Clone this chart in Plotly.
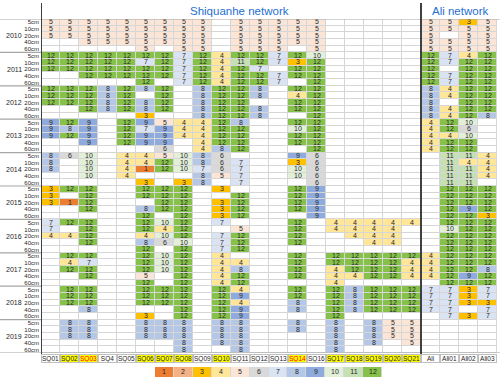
import plotly.graph_objects as go

_ = None

stations = ["SQ01", "SQ02", "SQ03", "SQ4", "SQ05", "SQ06", "SQ07", "SQ08", "SQ09", "SQ10",
            "SQ11", "SQ12", "SQ13", "SQ14", "SQ16", "SQ17", "SQ18", "SQ19", "SQ20", "SQ21",
            "Ali", "Ali01", "Ali02", "Ali03"]
years = [2010, 2011, 2012, 2013, 2014, 2015, 2016, 2017, 2018, 2019]
depths = ["5cm", "10cm", "20cm", "40cm", "60cm"]
highlighted = ["SQ02", "SQ03", "SQ06", "SQ07", "SQ08", "SQ10", "SQ14",
               "SQ17", "SQ18", "SQ19", "SQ20", "SQ21"]
red_labels = ["SQ03", "SQ14"]
legend_values = [1, 2, 3, 4, 5, 6, 7, 8, 9, 10, 11, 12]

# months of valid data per station / depth (rows: 5, 10, 20, 40, 60 cm)
y2010 = [
    [5, 5, 5, 5, 5, 5, 5, 5, 5, _, 5, 5, 5, 5, 5, _, _, _, _, _, 5, 5, 3, 5],
    [5, 5, 5, 5, 5, 5, 5, 5, 5, _, 5, 5, 5, 5, 5, _, _, _, _, _, 5, 5, 5, 5],
    [5, 5, 5, 5, 5, 5, 5, 5, 5, _, 5, 5, 5, 5, 5, _, _, _, _, _, 5, _, 5, 5],
    [_, _, 5, 5, 5, 5, 5, 5, 5, _, 5, 5, 5, 5, 5, _, _, _, _, _, 5, 5, 5, 5],
    [_, _, _, _, _, 5, _, 5, 5, _, 5, 5, 5, _, 5, _, _, _, _, _, 5, 5, 5, 5],
]
y2011 = [
    [12, 12, 12, 12, 12, 12, 12, 7, 12, 4, 12, 12, 7, 12, 10, _, _, _, _, _, 12, 7, 4, 12],
    [12, 12, 12, 12, 12, 7, 12, 7, 12, 4, 11, 12, 7, 3, 12, _, _, _, _, _, 12, 7, 12, 12],
    [12, 12, 12, 12, 12, 12, 12, 7, 12, 4, 12, 7, _, 12, 12, _, _, _, _, _, 12, _, 12, 12],
    [_, _, 12, 12, 12, 12, 12, 7, 12, 4, 12, 12, 7, 12, 12, _, _, _, _, _, 12, 7, 12, 12],
    [_, _, _, _, _, 12, _, 7, 12, 4, 12, 12, 7, _, 12, _, _, _, _, _, 12, 7, 12, 12],
]
y2012 = [
    [12, 12, 12, 8, 12, 8, 12, _, 8, 12, 12, 8, _, 12, 12, _, _, _, _, _, 8, 4, 12, 12],
    [12, 12, 12, 8, 12, _, 12, _, 8, 12, 12, 8, _, 4, 12, _, _, _, _, _, 8, 4, 12, 12],
    [12, 12, 12, 8, 12, 8, 12, _, 8, 12, 12, _, _, 12, 12, _, _, _, _, _, 8, _, 12, 12],
    [_, _, 12, 8, 12, 8, 12, _, 8, 12, 12, 8, _, 12, 12, _, _, _, _, _, 8, 4, 12, 12],
    [_, _, _, _, _, 3, _, _, 8, 12, 12, 8, _, _, 12, _, _, _, _, _, 8, 4, 12, 8],
]
y2013 = [
    [9, 12, 9, _, 12, 9, 5, 4, 4, 12, 8, _, _, 12, 12, _, _, _, _, _, 4, 12, 10, _],
    [9, 8, 9, _, 12, 7, 9, 4, 4, 12, 12, _, _, 10, 12, _, _, _, _, _, 4, 12, 6, _],
    [9, 12, 9, _, 12, 9, 9, 4, 4, 12, 12, _, _, 12, 12, _, _, _, _, _, 4, 4, 10, _],
    [_, _, 9, _, 12, 9, 9, _, 4, 12, 12, _, _, 12, 12, _, _, _, _, _, 4, 12, 12, _],
    [_, _, _, _, _, _, 6, _, 4, 8, 12, _, _, _, 12, _, _, _, _, _, 4, 12, 12, _],
]
y2014 = [
    [8, 6, 10, _, 4, 4, 5, 10, 8, 6, _, _, _, 9, 6, _, _, _, _, _, _, 11, 11, 4],
    [8, _, 10, _, 4, 4, 12, 10, 8, 6, 7, _, _, 3, 6, _, _, _, _, _, _, 11, 4, 4],
    [8, _, 10, _, 4, 1, 12, 10, 7, 6, 7, _, _, 10, 6, _, _, _, _, _, _, 11, 11, 4],
    [_, _, 10, _, 4, _, _, _, 8, 5, 7, _, _, 10, 6, _, _, _, _, _, _, 11, 11, 4],
    [_, _, _, _, _, 3, _, 3, 8, _, 7, _, _, _, 6, _, _, _, _, _, _, 11, 11, _],
]
y2015 = [
    [3, 12, 12, _, _, 12, 12, 12, _, 3, _, _, _, 12, 9, _, _, _, _, _, _, 12, 12, 12],
    [3, _, 12, _, _, 12, 12, 12, _, _, 12, _, _, 12, 9, _, _, _, _, _, _, 12, 12, 12],
    [3, 1, 12, _, _, _, 12, 12, _, 3, 12, _, _, 12, 9, _, _, _, _, _, _, 12, 12, 12],
    [_, _, 12, _, _, 8, 12, 12, _, 3, 12, _, _, 12, 9, _, _, _, _, _, _, 12, 9, 12],
    [_, _, _, _, _, 12, _, 12, _, 3, 12, _, _, _, 9, _, _, _, _, _, _, 12, 12, 3],
]
y2016 = [
    [7, 12, 12, _, _, 12, 10, 12, _, 7, _, _, _, 12, _, 4, 4, 4, 4, 4, _, 12, 12, 12],
    [7, _, 12, _, _, 12, 4, 12, _, _, 5, _, _, 12, _, 4, 4, 4, 4, _, _, 10, 12, 12],
    [4, 4, 12, _, _, 4, 10, 12, _, 7, 12, _, _, 12, _, _, 4, 4, 4, _, _, 12, 12, 12],
    [_, _, 12, _, _, 8, 6, 10, _, 7, 12, _, _, 12, _, _, _, 4, 4, _, _, 12, 12, 12],
    [_, _, _, _, _, 12, _, 12, _, 7, 12, _, _, _, _, _, _, _, _, _, _, 12, 12, 12],
]
y2017 = [
    [_, 12, 12, _, _, 12, 10, 12, _, 4, _, _, _, 12, _, 12, 12, 12, 12, 12, 4, 12, 12, 12],
    [_, 4, 7, _, _, 12, 10, 12, _, 4, 4, _, _, 12, _, 12, 12, 12, 12, 4, 4, 12, 12, 12],
    [_, 12, 12, _, _, 12, 10, 12, _, 4, 8, _, _, 12, _, 4, 12, 12, 12, 4, 4, 12, 12, 8],
    [_, _, 12, _, _, 5, _, 12, _, 4, 12, _, _, 12, _, 4, 4, 12, 12, 4, 4, 12, 9, 12],
    [_, _, _, _, _, 12, _, 12, _, 4, 12, _, _, _, _, 4, _, _, _, _, _, 12, 12, 12],
]
y2018 = [
    [_, 12, 12, _, _, 12, 12, 12, _, 12, 4, _, _, 12, _, 12, 8, 12, 12, 12, 7, 7, 3, 7],
    [_, 12, 12, _, _, 12, 12, 12, _, 12, 9, _, _, 12, _, 12, 8, 12, 12, 12, 7, 7, 3, 7],
    [_, 12, 12, _, _, 12, 12, 12, _, 12, 4, _, _, 8, _, 12, 8, 12, 12, 12, 7, 7, 3, 3],
    [_, _, 8, _, _, _, _, 12, _, 12, 9, _, _, 8, _, 12, 8, 12, 12, 12, 7, 7, _, 7],
    [_, _, _, _, _, 3, _, 12, _, 12, 9, _, _, _, _, 12, _, _, _, _, _, 7, 3, 7],
]
y2019 = [
    [_, 8, 8, _, _, 8, 8, 8, _, 8, 8, _, _, 8, _, 8, _, 8, 5, 5, _, _, _, _],
    [_, 8, 8, _, _, 8, 8, 8, _, 8, 8, _, _, 8, _, 8, _, 8, 5, 5, _, _, _, _],
    [_, 8, 8, _, _, 8, 8, 8, _, 8, 8, _, _, _, _, 8, _, 8, 5, 5, _, _, _, _],
    [_, _, _, _, _, _, _, 8, _, 8, 8, _, _, _, _, 8, _, 8, _, 5, _, _, _, _],
    [_, _, _, _, _, _, _, 8, _, _, 8, _, _, _, _, 8, _, _, _, _, _, _, _, _],
]

colors = ["#FFFFFF", "#ED7D31", "#F4B183", "#FFC000", "#FFE699", "#FBE5D6", "#D9D9D9",
          "#DAE3F3", "#B4C7E7", "#8FAADC", "#E2F0D9", "#C5E0B4", "#86C249"]

# stepped colour scale, one band per value 0..12
cscale = []
for i, c in enumerate(colors):
    cscale.append([i / 13, c])
    cscale.append([(i + 1) / 13, c])

rows = y2010 + y2011 + y2012 + y2013 + y2014 + y2015 + y2016 + y2017 + y2018 + y2019
z = [[0 if v is None else v for v in r] for r in rows]
txt = [["" if v is None else str(v) for v in r] for r in rows]

FONT = "Liberation Sans, Arial, sans-serif"
W, H = 500, 382
L, R, T, B = 41, 3, 19, 1
pw, ph = W - L - R, H - T - B


def px(x):
    return (x - L) / pw


def py(y):
    return (H - B - y) / ph


fig = go.Figure()
fig.add_trace(go.Heatmap(
    z=z, text=txt, texttemplate="%{text}",
    textfont=dict(size=7, color="#262626", family=FONT),
    x=list(range(len(stations))), y=list(range(len(rows))),
    colorscale=cscale, zmin=-0.5, zmax=12.5, showscale=False,
    xgap=1, ygap=1, hoverinfo="skip", xaxis="x", yaxis="y"))

# colour key under the table
fig.add_trace(go.Heatmap(
    z=[legend_values], text=[[str(v) for v in legend_values]], texttemplate="%{text}",
    textfont=dict(size=7, color="#262626", family=FONT),
    colorscale=cscale, zmin=-0.5, zmax=12.5, showscale=False,
    xgap=1, hoverinfo="skip", xaxis="x2", yaxis="y2"))

ann = []
shapes = []
for i, s in enumerate(stations):
    hl = s in highlighted
    ann.append(dict(x=i, xref="x", y=py(358), yref="paper", xanchor="center", yanchor="middle",
                    text=s, showarrow=False,
                    font=dict(size=6.5, family=FONT, color="#FF0000" if s in red_labels else "#262626"),
                    bgcolor="#FFFF00" if hl else "#FFFFFF", bordercolor="#BFBFBF",
                    borderwidth=1, borderpad=0, width=17, height=7))

for k, yr in enumerate(years):
    ann.append(dict(x=px(14), xref="paper", y=5 * k + 2, yref="y", xanchor="center",
                    yanchor="middle", text=str(yr), showarrow=False,
                    font=dict(size=7, family=FONT, color="#262626")))
    if k > 0:
        shapes.append(dict(type="line", xref="paper", yref="y", x0=px(0), x1=0,
                           y0=5 * k - 0.5, y1=5 * k - 0.5,
                           line=dict(color="#A6A6A6", width=1.2)))

for yy in [-0.5, len(rows) - 0.5]:
    shapes.append(dict(type="line", xref="paper", yref="y", x0=px(0), x1=px(W),
                       y0=yy, y1=yy, line=dict(color="#A6A6A6", width=1.2)))

for xx in [-0.5, 19.5]:
    shapes.append(dict(type="line", xref="x", yref="paper", x0=xx, x1=xx,
                       y0=py(362), y1=py(3), line=dict(color="#404040", width=2)))

ann.append(dict(x=px(239), xref="paper", y=py(11), yref="paper", xanchor="center",
                yanchor="middle", text="Shiquanhe network", showarrow=False,
                font=dict(size=11.5, family=FONT, color="#1F6FD1")))
ann.append(dict(x=px(460), xref="paper", y=py(11), yref="paper", xanchor="center",
                yanchor="middle", text="Ali network", showarrow=False,
                font=dict(size=11.5, family=FONT, color="#1F6FD1")))

fig.update_layout(
    width=W, height=H,
    margin=dict(l=L, r=R, t=T, b=B),
    paper_bgcolor="white", plot_bgcolor="#D6D6D6",
    font=dict(family=FONT),
    xaxis=dict(range=[-0.5, len(stations) - 0.5], domain=[0, 1], showticklabels=False,
               showgrid=False, zeroline=False, ticks=""),
    yaxis=dict(range=[len(rows) - 0.5, -0.5], domain=[py(353), 1],
               tickmode="array", tickvals=list(range(len(rows))),
               ticktext=depths * len(years), tickfont=dict(size=6, color="#262626"),
               showgrid=False, zeroline=False, ticks="", ticklabelstandoff=1),
    xaxis2=dict(range=[-0.5, 11.5], domain=[px(155), px(382)], visible=False, anchor="y2"),
    yaxis2=dict(range=[-0.5, 0.5], domain=[py(377), py(367)], visible=False, anchor="x2"),
    annotations=ann, shapes=shapes,
)

# page margin off so the figure sits at the window's top-left corner
fig.write_html("out.html", config={"displayModeBar": False},
               post_script="document.body.style.margin='0px';")
